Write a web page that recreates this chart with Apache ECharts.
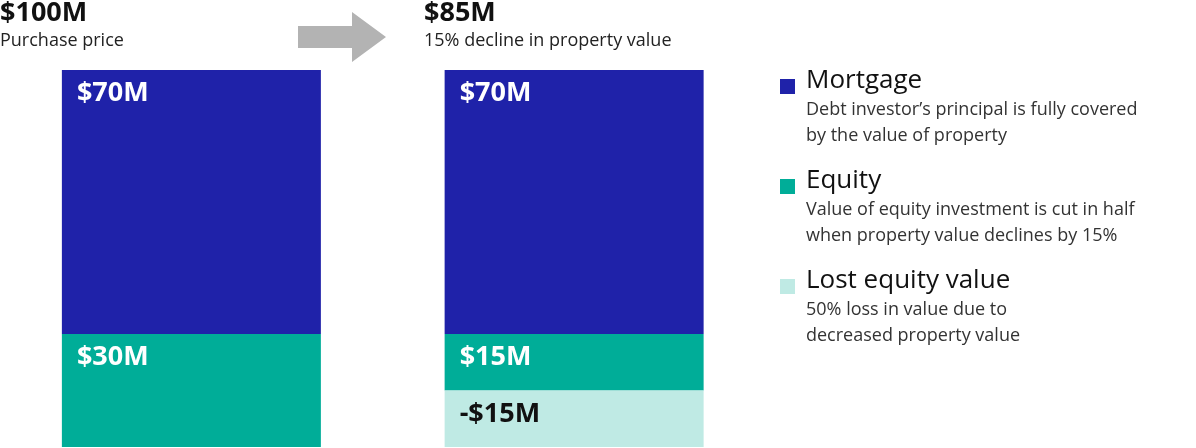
<!DOCTYPE html>
<html><head><meta charset="utf-8">
<script src="https://cdn.jsdelivr.net/npm/echarts@6/dist/echarts.min.js"></script>
<style>html,body{margin:0;padding:0;background:#fff}#c{width:1196px;height:448px}</style>
</head><body><div id="c"></div>
<script>
const categories = ['Purchase price', '15% decline in property value'];
const totals = ['$100M', '$85M'];
const mortgage = [70, 70];
const equity = [30, 15];
const lostEquity = [0, 15];
const segLabels = { mortgage: ['$70M', '$70M'], equity: ['$30M', '$15M'], lost: ['', '-$15M'] };
const legendItems = [
  { name: 'Mortgage', desc: ['Debt investor\u2019s principal is fully covered', 'by the value of property'], color: '#1f22a9' },
  { name: 'Equity', desc: ['Value of equity investment is cut in half', 'when property value declines by 15%'], color: '#00ad98' },
  { name: 'Lost equity value', desc: ['50% loss in value due to', 'decreased property value'], color: '#bfeae4' }
];
const F = '"Open Sans", Inter, sans-serif';
const chart = echarts.init(document.getElementById('c'));
function ser(name, vals, color, labs, lc) {
  return {
    name, type: 'bar', stack: 's', barWidth: 259, itemStyle: { color },
    data: vals.map((v, i) => ({ value: v, label: { formatter: labs[i] } })),
    label: { show: true, position: 'insideTopLeft', distance: 0, padding: [10, 0, 0, 15],
      color: lc, fontFamily: F, fontWeight: 'bold', fontSize: 27 },
    emphasis: { disabled: true }
  };
}
const graphics = [];
[0, 424].forEach((x, i) => {
  graphics.push({ type: 'text', left: x, top: 0, style: { text: totals[i], font: 'bold 27px ' + F, fill: '#111' } });
  graphics.push({ type: 'text', left: x, top: 32, style: { text: categories[i], font: '18px ' + F, fill: '#222' } });
});
graphics.push({ type: 'polygon', shape: { points: [[298, 26], [352, 26], [352, 12], [386, 37], [352, 62], [352, 48], [298, 48]] }, style: { fill: '#b3b3b3' } });
const ys = [76, 176, 276];
legendItems.forEach((it, k) => {
  const y = ys[k];
  graphics.push({ type: 'rect', shape: { x: 780, y: y + 3, width: 15, height: 15 }, style: { fill: it.color } });
  graphics.push({ type: 'text', left: 806, top: y - 8, style: { text: it.name, font: '26px ' + F, fill: '#111' } });
  it.desc.forEach((d, j) => graphics.push({ type: 'text', left: 806, top: y + 25 + j * 26, style: { text: d, font: '18px ' + F, fill: '#333' } }));
});
chart.setOption({
  animation: false,
  grid: { left: -82.5, top: 70, width: 848, bottom: 1 },
  xAxis: { type: 'category', data: categories, show: false },
  yAxis: { type: 'value', min: 0, max: 100, inverse: true, show: false },
  series: [
    ser('Mortgage', mortgage, '#1f22a9', segLabels.mortgage, '#fff'),
    ser('Equity', equity, '#00ad98', segLabels.equity, '#fff'),
    ser('Lost equity value', lostEquity, '#bfeae4', segLabels.lost, '#111')
  ],
  graphic: graphics
});
</script></body></html>
